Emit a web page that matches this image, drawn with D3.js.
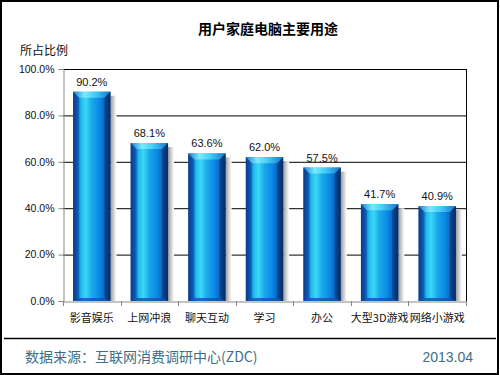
<!DOCTYPE html>
<html><head><meta charset="utf-8">
<script src="https://cdn.jsdelivr.net/npm/d3@7"></script>
<style>body{margin:0;background:#fff}svg{display:block}</style>
</head><body>
<script>
const categories = ["影音娱乐","上网冲浪","聊天互动","学习","办公","大型3D游戏","网络小游戏"];
const values = [90.2, 68.1, 63.6, 62.0, 57.5, 41.7, 40.9];
const yTicks = [0, 20, 40, 60, 80, 100];
const titleText = "用户家庭电脑主要用途";
const yAxisTitle = "所占比例";
const sourceText = "数据来源：互联网消费调研中心(ZDC)";
const dateText = "2013.04";

const W = 500, H = 375;
const m = {left: 63, right: 466, top: 69, bottom: 301};
const svg = d3.select("body").append("svg").attr("width", W).attr("height", H);
const defs = svg.append("defs");

const bodyGrad = defs.append("linearGradient").attr("id","bodyG").attr("x1","0").attr("x2","1").attr("y1","0").attr("y2","0");
[[0,"#0a3a80"],[0.1,"#0b63c2"],[0.22,"#22bdee"],[0.34,"#3ad8f5"],[0.5,"#1aa8ea"],[0.7,"#0a8ae6"],[0.88,"#0a5cb8"],[1,"#072f6c"]]
  .forEach(([o,c]) => bodyGrad.append("stop").attr("offset",o).attr("stop-color",c));
const capGrad = defs.append("linearGradient").attr("id","capG").attr("x1","0").attr("x2","1");
[[0,"#1a7fd0"],[0.3,"#7aeafc"],[0.6,"#42caf4"],[1,"#1576cc"]]
  .forEach(([o,c]) => capGrad.append("stop").attr("offset",o).attr("stop-color",c));
const shGrad = defs.append("linearGradient").attr("id","shG").attr("x1","0").attr("x2","1");
[[0,"#9a9a9a"],[0.5,"#cfcfcf"],[1,"#ffffff"]]
  .forEach(([o,c]) => shGrad.append("stop").attr("offset",o).attr("stop-color",c));

// outer frame
svg.append("rect").attr("x",1).attr("y",1).attr("width",497).attr("height",373)
  .attr("fill","none").attr("stroke","#000").attr("stroke-width",2);

const x = d3.scaleBand().domain(categories).range([m.left, m.right]).paddingInner(0.35).paddingOuter(0.175);
const xb = d3.scaleBand().domain(categories).range([m.left, m.right]);
const y = d3.scaleLinear().domain([0,100]).range([m.bottom, m.top]);

// gridlines
svg.append("g").selectAll("line").data(yTicks.filter(d=>d>0)).join("line")
  .attr("x1", m.left).attr("x2", m.right).attr("y1", d=>y(d)+0.5).attr("y2", d=>y(d)+0.5)
  .attr("stroke","#000").attr("stroke-width",1);
// right border of plot
svg.append("line").attr("x1",m.right+0.5).attr("x2",m.right+0.5).attr("y1",y(100)).attr("y2",m.bottom)
  .attr("stroke","#000");

// bars
const bars = svg.append("g");
categories.forEach((c,i) => {
  const x0 = x(c), bw = x.bandwidth(), yt = y(values[i]), yb = m.bottom;
  const g = bars.append("g");
  g.append("rect").attr("x", x0+bw).attr("y", yt+4).attr("width",6).attr("height", yb-yt-4).attr("fill","url(#shG)");
  g.append("rect").attr("x", x0).attr("y", yt).attr("width", bw).attr("height", yb-yt).attr("fill","url(#bodyG)");
  const b = 6;
  g.append("path").attr("d", `M${x0},${yt}L${x0+bw},${yt}L${x0+bw-b},${yt+b}L${x0+b},${yt+b}Z`).attr("fill","url(#capG)");
  g.append("path").attr("d", `M${x0},${yt}L${x0+b},${yt+b}L${x0+b},${yb-3}L${x0},${yb}Z`).attr("fill","#0a3f90").attr("opacity",0.45);
  g.append("path").attr("d", `M${x0+bw},${yt}L${x0+bw-b},${yt+b}L${x0+bw-b},${yb-3}L${x0+bw},${yb}Z`).attr("fill","#06285e").attr("opacity",0.5);
  g.append("path").attr("d", `M${x0},${yb}L${x0+b},${yb-3}L${x0+bw-b},${yb-3}L${x0+bw},${yb}Z`).attr("fill","#0a55b0").attr("opacity",0.8);
  g.append("text").attr("x", x0+bw/2).attr("y", yt-6).attr("text-anchor","middle")
    .attr("font-family","'Liberation Sans', sans-serif").attr("font-size",11).attr("fill","#111")
    .text(values[i].toFixed(1)+"%");
});

// y axis
const yAxis = svg.append("g").attr("transform",`translate(${m.left+0.5},0)`)
  .call(d3.axisLeft(y).tickValues(yTicks).tickSize(5).tickPadding(4).tickFormat(d=>d.toFixed(1)+"%"));
yAxis.select(".domain").attr("stroke","#888");
yAxis.selectAll(".tick line").attr("stroke","#888");
yAxis.selectAll("text").attr("font-family","'Liberation Sans', sans-serif").attr("font-size",10.5).attr("fill","#111");

// x axis
const xAxis = svg.append("g").attr("transform",`translate(0,${m.bottom+0.5})`)
  .call(d3.axisBottom(xb).tickSize(0).tickPadding(13));
xAxis.select(".domain").attr("stroke","#888");
xAxis.selectAll("text").attr("font-family","'Noto Sans CJK SC', sans-serif").attr("font-size",11).attr("fill","#111");
svg.append("g").selectAll("line").data(categories.concat(["__end"])).join("line")
  .attr("x1", (d,i)=> Math.round(m.left + i*xb.bandwidth())+0.5)
  .attr("x2", (d,i)=> Math.round(m.left + i*xb.bandwidth())+0.5)
  .attr("y1", m.bottom).attr("y2", m.bottom+5).attr("stroke","#888");

// titles
svg.append("text").attr("x",268).attr("y",34).attr("text-anchor","middle")
  .attr("font-family","'Noto Sans CJK SC', sans-serif").attr("font-size",14).attr("font-weight","bold").attr("fill","#000")
  .text(titleText);
svg.append("text").attr("x",20).attr("y",55)
  .attr("font-family","'Noto Sans CJK SC', sans-serif").attr("font-size",12).attr("fill","#111")
  .text(yAxisTitle);

// footer
svg.append("line").attr("x1",4).attr("x2",496).attr("y1",338.5).attr("y2",338.5).attr("stroke","#000").attr("stroke-width",1.5);
svg.append("text").attr("x",25).attr("y",362)
  .attr("font-family","'Noto Sans CJK SC', sans-serif").attr("font-size",14).attr("fill","#3d6f84")
  .text(sourceText);
svg.append("text").attr("x",473).attr("y",362).attr("text-anchor","end")
  .attr("font-family","'Liberation Sans', sans-serif").attr("font-size",14).attr("fill","#3d6f84")
  .text(dateText);
</script>
</body></html>
